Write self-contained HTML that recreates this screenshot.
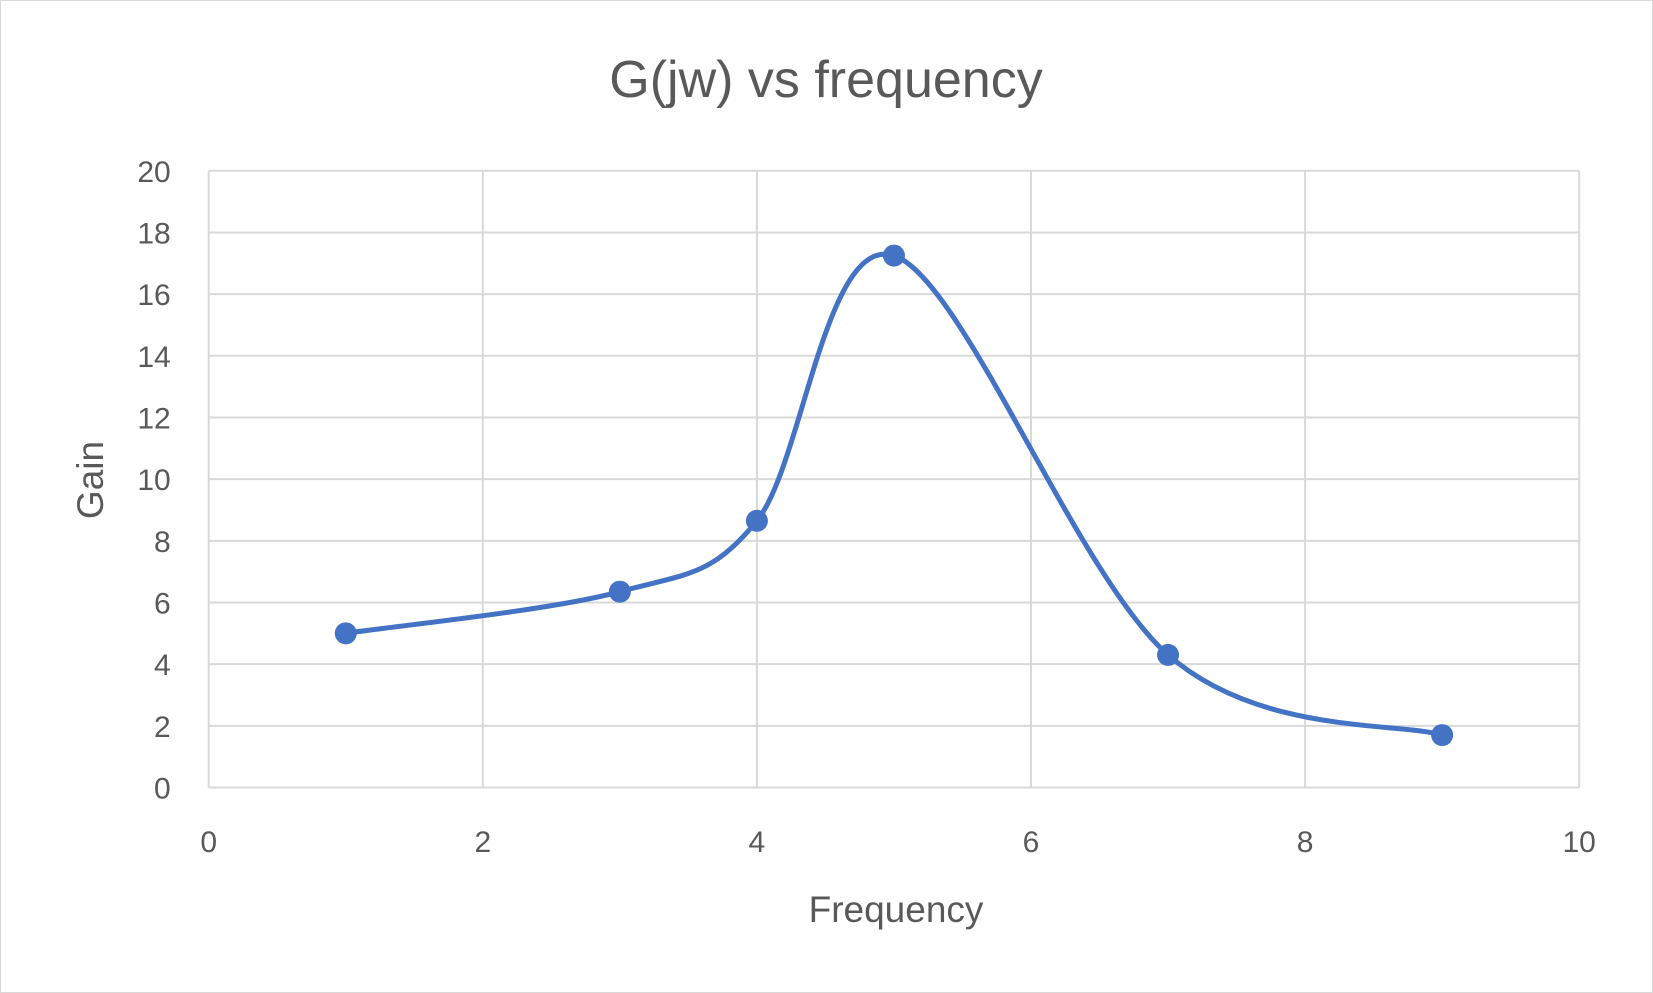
<!DOCTYPE html>
<html><head><meta charset="utf-8"><style>
html,body{margin:0;padding:0;background:#fff}
svg{display:block}
text{font-family:"Liberation Sans",sans-serif;fill:#595959}
</style></head><body>
<svg id="chart" width="1653" height="993">
<rect x="0.5" y="0.5" width="1652" height="992" fill="#fff" stroke="#d9d9d9"/>
<text x="826" y="97" text-anchor="middle" font-size="52">G(jw) vs frequency</text>
<g id="grid"></g><g id="series"></g>
<text x="896" y="922" text-anchor="middle" font-size="37">Frequency</text>
<text transform="translate(103,480) rotate(-90)" text-anchor="middle" font-size="37">Gain</text>
</svg>
<script>
const xVals=[1,3,4,5,7,9];
const gainVals=[5,6.35,8.65,17.25,4.3,1.7];
const xTicks=[0,2,4,6,8,10];
const yTicks=[0,2,4,6,8,10,12,14,16,18,20];
const L=208.7,R=1579.2,T=170.8,B=787.5;
const sx=v=>L+(v-0)/(10-0)*(R-L);
const sy=v=>B-(v-0)/(20-0)*(B-T);
const NS="http://www.w3.org/2000/svg";
const grid=document.getElementById('grid'),ser=document.getElementById('series');
function mk(tag,attrs,parent){const e=document.createElementNS(NS,tag);for(const k in attrs)e.setAttribute(k,attrs[k]);parent.appendChild(e);return e;}
yTicks.forEach(t=>{
 const y=sy(t);
 const l=mk('line',{x1:L,x2:R,y1:y,y2:y,stroke:'#d9d9d9','stroke-width':2},grid);
 
 
 const tx=mk('text',{x:L-38,y:y+11,'text-anchor':'end','font-size':30},grid);
 tx.textContent=t;
 
 
});
xTicks.forEach(t=>{
 const x=sx(t);
 const l=mk('line',{x1:x,x2:x,y1:T,y2:B,stroke:'#d9d9d9','stroke-width':2},grid);
 
 
 const tx=mk('text',{x:x,y:852,'text-anchor':'middle','font-size':30},grid);
 tx.textContent=t;
 
 
});
const P=xVals.map((v,i)=>[sx(v),sy(gainVals[i])]);
let d='M'+P[0][0]+','+P[0][1];
for(let i=0;i<P.length-1;i++){
 const p0=P[Math.max(0,i-1)],p1=P[i],p2=P[i+1],p3=P[Math.min(P.length-1,i+2)];
 const c1=[p1[0]+(p2[0]-p0[0])/6,p1[1]+(p2[1]-p0[1])/6];
 const c2=[p2[0]-(p3[0]-p1[0])/6,p2[1]-(p3[1]-p1[1])/6];
 d+=' C'+c1+' '+c2+' '+p2;
}
const path=mk('path',{d:d,fill:'none',stroke:'#4472c4','stroke-width':5,'stroke-linecap':'round'},ser);


P.forEach(p=>{
 const c=mk('circle',{cx:p[0],cy:p[1],r:11,fill:'#4472c4'},ser);
 
 
});
</script>
</body></html>
